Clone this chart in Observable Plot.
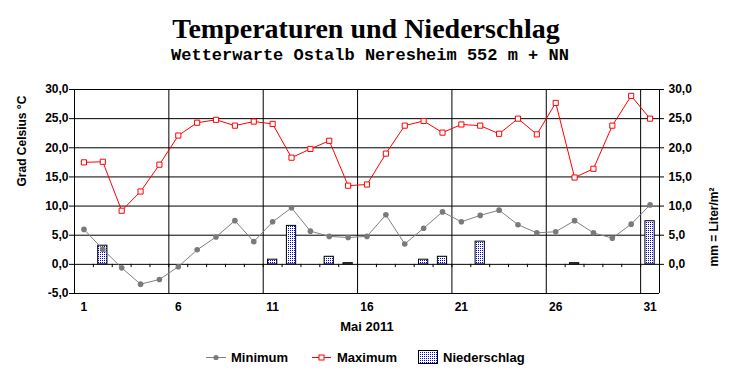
<!DOCTYPE html>
<html>
<head>
<meta charset="utf-8">
<script src="https://cdn.jsdelivr.net/npm/d3@7"></script>
<script src="https://cdn.jsdelivr.net/npm/@observablehq/plot@0.6"></script>
<style>
  html, body { margin: 0; padding: 0; background: white; }
  #wrap { position: relative; width: 732px; height: 380px; overflow: hidden; background: white; }
  .title { position: absolute; left: 0; width: 732px; text-align: center; white-space: nowrap; }
  #t1 { top: 15px; font: bold 28px/28px "Liberation Serif", "Times New Roman", serif; }
  #t2 { top: 47px; left: 4px; font: bold 17px/17px "Liberation Mono", "Courier New", monospace; }
  #chart { position: absolute; left: 0; top: 70px; }
  .leg { position: absolute; font: bold 13px/16px "Liberation Sans", Arial, sans-serif; white-space: nowrap; }
  .legicon { position: absolute; }
</style>
</head>
<body>
<div id="wrap">
  <div class="title" id="t1">Temperaturen und Niederschlag</div>
  <div class="title" id="t2">Wetterwarte Ostalb Neresheim 552 m + NN</div>
  <div id="chart"></div>
  <svg class="legicon" style="left:206px;top:352px" width="20" height="10">
    <line x1="0" y1="5.5" x2="20" y2="5.5" stroke="#808080" stroke-width="1"/>
    <circle cx="10" cy="5.5" r="2.6" fill="#7a7a7a"/>
  </svg>
  <div class="leg" style="left:231px;top:350px">Minimum</div>
  <svg class="legicon" style="left:312px;top:352px" width="19" height="10">
    <line x1="0" y1="5.5" x2="19" y2="5.5" stroke="#ff0000" stroke-width="1"/>
    <rect x="7" y="3" width="5" height="5" fill="white" stroke="#ff0000" stroke-width="1"/>
  </svg>
  <div class="leg" style="left:337px;top:350px">Maximum</div>
  <svg class="legicon" style="left:418px;top:350px" width="20" height="14">
    <defs>
      <pattern id="legPat" width="2" height="2" patternUnits="userSpaceOnUse">
        <rect width="2" height="2" fill="white"/>
        <rect width="1" height="1" fill="#0000ff"/>
      </pattern>
    </defs>
    <rect x="0.5" y="0.5" width="19" height="13" fill="url(#legPat)" stroke="black" stroke-width="1"/>
  </svg>
  <div class="leg" style="left:443px;top:350px">Niederschlag</div>
</div>
<script>
// ---- data ----
const days = d3.range(1, 32);
const tmin = [6.0, 2.6, -0.6, -3.4, -2.6, -0.4, 2.5, 4.7, 7.5, 3.9, 7.3, 9.7, 5.7, 4.8, 4.6, 4.8, 8.5, 3.5, 6.2, 9.0, 7.3, 8.4, 9.3, 6.8, 5.4, 5.6, 7.5, 5.4, 4.5, 6.9, 10.2];
const tmax = [17.5, 17.6, 9.2, 12.5, 17.1, 22.1, 24.3, 24.8, 23.8, 24.5, 24.1, 18.3, 19.8, 21.2, 13.5, 13.7, 19.0, 23.8, 24.6, 22.6, 24.0, 23.8, 22.4, 25.0, 22.3, 27.7, 14.9, 16.4, 23.8, 28.9, 25.0];
const precip = [0, 3.2, 0, 0, 0, 0, 0, 0, 0, 0, 0.8, 6.6, 0, 1.3, 0.2, 0, 0, 0, 0.8, 1.3, 0, 3.9, 0, 0, 0, 0, 0.2, 0, 0, 0, 7.4];
const leftTicks = [-5, 0, 5, 10, 15, 20, 25, 30];
const rightTicks = [0, 5, 10, 15, 20, 25, 30];
const xTicks = [1, 6, 11, 16, 21, 26, 31];
const monthLabel = "Mai 2011";
const leftTitle = "Grad Celsius °C";
const rightTitle = "mm = Liter/m²";

const rows = days.map((d, i) => ({day: d, min: tmin[i], max: tmax[i], rain: precip[i]}));
const rainRows = rows.filter(r => r.rain > 0);
const vGrid = d3.range(0, 7).map(k => 0.5 + 5 * k).concat([31.5]);
const minorTicks = d3.range(1, 31).map(k => k + 0.5);
const fmt = d => d.toFixed(1).replace(".", ",");

const chart = Plot.plot({
  width: 732,
  height: 275,
  marginLeft: 74,
  marginRight: 73,
  marginTop: 19,
  marginBottom: 52,
  x: {domain: [0.5, 31.5]},
  y: {domain: [-5, 30]},
  style: {fontFamily: "'Liberation Sans', Arial, sans-serif", fontSize: "12px", fontWeight: "bold", color: "black", background: "white", overflow: "visible"},
  marks: [
    Plot.ruleY(leftTicks, {stroke: "black", strokeWidth: 1}),
    Plot.ruleX(vGrid, {y1: -5, y2: 30, stroke: "black", strokeWidth: 1}),
    Plot.ruleX(minorTicks, {y1: 0, y2: -0.55, stroke: "black", strokeWidth: 1}),
    Plot.rect(rainRows, {x1: d => d.day - 0.245, x2: d => d.day + 0.245, y1: 0, y2: "rain", fill: "url(#rainPat)", stroke: "black", strokeWidth: 1}),
    Plot.line(rows, {x: "day", y: "min", stroke: "#808080", strokeWidth: 1}),
    Plot.dot(rows, {x: "day", y: "min", r: 2.8, fill: "#7a7a7a", stroke: "none"}),
    Plot.line(rows, {x: "day", y: "max", stroke: "#ff0000", strokeWidth: 1}),
    Plot.dot(rows, {x: "day", y: "max", symbol: "square", r: 2.9, fill: "white", stroke: "#ff0000", strokeWidth: 1}),
    Plot.axisY(leftTicks, {anchor: "left", tickSize: 5, tickPadding: 1, tickFormat: fmt, label: null, fontSize: 12}),
    Plot.axisY(rightTicks, {anchor: "right", tickSize: 4, tickPadding: 5, tickFormat: fmt, label: null, fontSize: 12}),
    Plot.axisX(xTicks, {anchor: "bottom", tickSize: 0, tickPadding: 9, tickFormat: d => String(d), label: null, fontSize: 12}),
    Plot.text([monthLabel], {frameAnchor: "bottom", dy: 37, fontSize: 13, fontWeight: "bold"}),
    Plot.text([leftTitle], {frameAnchor: "left", dx: -52, dy: -5, rotate: -90, fontSize: 12, fontWeight: "bold"}),
    Plot.text([rightTitle], {frameAnchor: "right", dx: 55, dy: -4, rotate: -90, fontSize: 12, fontWeight: "bold"})
  ]
});

const ns = "http://www.w3.org/2000/svg";
const defs = document.createElementNS(ns, "defs");
defs.innerHTML = '<pattern id="rainPat" width="2" height="2" patternUnits="userSpaceOnUse"><rect width="2" height="2" fill="white"/><rect width="1" height="1" fill="#0000ff"/></pattern>';
chart.insertBefore(defs, chart.firstChild);
document.getElementById("chart").appendChild(chart);
</script>
</body>
</html>
